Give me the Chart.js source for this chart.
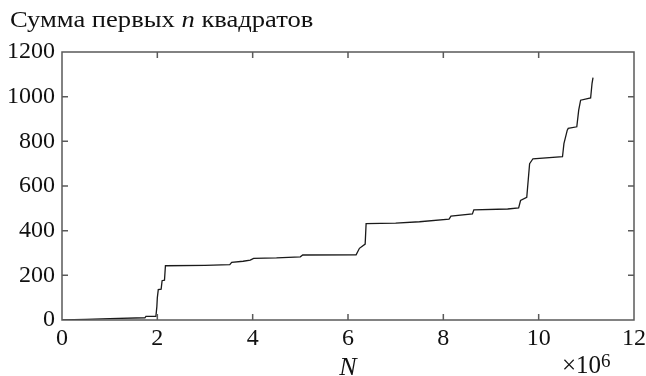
<!DOCTYPE html>
<html>
<head>
<meta charset="utf-8">
<script src="https://cdn.jsdelivr.net/npm/chart.js@4/dist/chart.umd.min.js"></script>
<style>
  html, body { margin: 0; padding: 0; background: #fff; }
  #wrap { position: relative; width: 646px; height: 376px; overflow: hidden; }
  #title { position: absolute; left: 10px; top: 7px; font-family: "Liberation Serif", serif; font-size: 23px; color: #111; white-space: nowrap; transform: scaleX(1.155); transform-origin: left top; }
  #mult { position: absolute; left: 562px; top: 351px; font-family: "Liberation Serif", serif; font-size: 25px; line-height: 28px; color: #111; white-space: nowrap; }
  #mult sup { font-size: 19px; position: relative; top: -6px; vertical-align: baseline; line-height: 0; }
  canvas { position: absolute; left: 0; top: 0; }
</style>
</head>
<body>
<div id="wrap">
  <canvas id="c" width="646" height="376"></canvas>
  <div id="title">Сумма первых <i>n</i> квадратов</div>
  <div id="mult">×10<sup>6</sup></div>
</div>
<script>
// N values in millions (axis shows ×10^6)
const nMillions = [0, 0.5, 1.0, 1.74, 1.76, 1.97, 1.99, 2.0, 2.02, 2.08, 2.1, 2.15, 2.17, 3.0, 3.52, 3.56, 3.8, 3.95, 4.02, 4.5, 5.0, 5.05, 6.17, 6.24, 6.36, 6.38, 7.0, 7.5, 8.12, 8.16, 8.61, 8.64, 9.35, 9.58, 9.62, 9.75, 9.81, 9.88, 10.5, 10.53, 10.6, 10.62, 10.8, 10.84, 10.88, 11.09, 11.12, 11.14];
// Sum of first n squares
const sumValues = [0, 3, 6, 10, 16, 16, 60, 100, 136, 138, 176, 178, 243, 245, 248, 258, 263, 268, 276, 278, 283, 291, 292, 321, 340, 432, 434, 440, 452, 465, 475, 493, 497, 502, 535, 549, 700, 722, 731, 790, 850, 858, 865, 940, 984, 994, 1060, 1085];
const xTickLabels = ['0', '2', '4', '6', '8', '10', '12'];
const yTickLabels = ['0', '200', '400', '600', '800', '1000', '1200'];
const xAxisTitle = 'N';

const points = nMillions.map((x, i) => ({ x: x, y: sumValues[i] }));

const frameColor = '#5a5a5a';
const tickLen = 6;

const framePlugin = {
  id: 'frame',
  afterDraw(chart) {
    const { ctx, chartArea: a, scales } = chart;
    const xs = scales.x, ys = scales.y;
    ctx.save();
    ctx.strokeStyle = frameColor;
    ctx.lineWidth = 1.5;
    ctx.strokeRect(a.left, a.top, a.right - a.left, a.bottom - a.top);
    ctx.beginPath();
    xs.ticks.forEach(t => {
      const px = xs.getPixelForValue(t.value);
      if (px <= a.left + 1 || px >= a.right - 1) return;
      ctx.moveTo(px, a.bottom); ctx.lineTo(px, a.bottom - tickLen);
      ctx.moveTo(px, a.top); ctx.lineTo(px, a.top + tickLen);
    });
    ys.ticks.forEach(t => {
      const py = ys.getPixelForValue(t.value);
      if (py <= a.top + 1 || py >= a.bottom - 1) return;
      ctx.moveTo(a.left, py); ctx.lineTo(a.left + tickLen, py);
      ctx.moveTo(a.right, py); ctx.lineTo(a.right - tickLen, py);
    });
    ctx.stroke();
    ctx.restore();
  }
};

new Chart(document.getElementById('c'), {
  type: 'line',
  data: {
    datasets: [{
      data: points,
      borderColor: '#1a1a1a',
      borderWidth: 1.3,
      pointRadius: 0,
      tension: 0,
      fill: false
    }]
  },
  options: {
    responsive: false,
    animation: false,
    events: [],
    layout: { padding: { top: 52, right: 12, left: 0, bottom: 0 } },
    plugins: { legend: { display: false }, tooltip: { enabled: false }, title: { display: false } },
    scales: {
      x: {
        type: 'linear',
        min: 0, max: 12,
        ticks: {
          stepSize: 2,
          padding: 4,
          color: '#111',
          font: { family: 'Liberation Serif', size: 24 },
          maxRotation: 0,
          callback: (v) => xTickLabels[Math.round(v / 2)]
        },
        grid: { display: false, drawTicks: false },
        border: { display: false },
        title: {
          display: true,
          text: xAxisTitle,
          color: '#111',
          font: { family: 'Liberation Serif', size: 26, style: 'italic' },
          padding: { top: 0, bottom: -8 }
        },
        afterFit(scale) { scale.height = 56; scale.paddingRight = 0; scale.paddingLeft = 0; }
      },
      y: {
        type: 'linear',
        min: 0, max: 1200,
        ticks: {
          stepSize: 200,
          padding: 7,
          color: '#111',
          font: { family: 'Liberation Serif', size: 24 },
          callback: (v) => yTickLabels[Math.round(v / 200)]
        },
        grid: { display: false, drawTicks: false },
        border: { display: false },
        afterFit(scale) { scale.width = 62; }
      }
    }
  },
  plugins: [framePlugin]
});
</script>
</body>
</html>
